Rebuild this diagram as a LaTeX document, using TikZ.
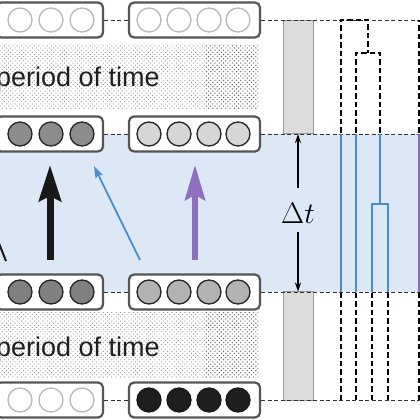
\documentclass[tikz,border=0pt]{standalone}
\usepackage[no-math]{fontspec}
\setmainfont{Liberation Sans}
\usetikzlibrary{arrows.meta,patterns}
\definecolor{bgblue}{HTML}{DDE8F6}
\definecolor{lineblue}{HTML}{4A8FC9}
\definecolor{purp}{HTML}{8C70BE}
\definecolor{boxedge}{HTML}{555555}
\definecolor{greyfill}{HTML}{DCDCDC}
\pgfdeclarepatternformonly{stipple}{\pgfqpoint{-1pt}{-1pt}}{\pgfqpoint{5.3pt}{5.3pt}}{\pgfqpoint{4.3pt}{4.3pt}}{%
  \pgfpathcircle{\pgfqpoint{0pt}{0pt}}{0.6pt}%
  \pgfpathcircle{\pgfqpoint{2.15pt}{2.15pt}}{0.6pt}%
  \pgfusepath{fill}}
\pgfdeclarepatternformonly{stippledense}{\pgfqpoint{-1pt}{-1pt}}{\pgfqpoint{5.3pt}{5.3pt}}{\pgfqpoint{4.3pt}{4.3pt}}{%
  \pgfpathcircle{\pgfqpoint{0pt}{0pt}}{0.7pt}%
  \pgfpathcircle{\pgfqpoint{2.15pt}{2.15pt}}{0.7pt}%
  \pgfusepath{fill}}
\tikzset{
  unitbox/.style={draw=boxedge, line width=2.2pt, rounded corners=5pt, fill=white, minimum height=35pt, inner sep=0pt},
  boxA/.style={unitbox, minimum width=107pt},
  boxB/.style={unitbox, minimum width=131pt},
  neuron/.style={circle, minimum size=24pt, inner sep=0pt, line width=1.3pt},
  emptyn/.style={neuron, draw=black!28, fill=white},
  rowlink/.style={dashed, dash pattern=on 4pt off 2.5pt, line width=0.9pt, draw=black!80},
  treedash/.style={line width=2pt, dash pattern=on 5.5pt off 3pt, draw=black},
  treeblue/.style={line width=2pt, draw=lineblue},
  band/.style={pattern=stipple, pattern color=black!45, draw=none},
  banddense/.style={pattern=stippledense, pattern color=black!62, draw=none},
  greybar/.style={draw=black!40, line width=1pt, fill=greyfill, minimum width=30pt, inner sep=0pt},
  bigtext/.style={font=\fontsize{27}{32}\selectfont, text=black!88, anchor=base west, inner sep=0pt},
  thinarrow/.style={line width=1.2pt, -{Stealth[length=9pt,width=6pt]}}
}
\begin{document}
\begin{tikzpicture}[x=1pt,y=1pt]
\useasboundingbox (0,0) rectangle (420,420);
\fill[white] (0,0) rectangle (420,420);
% blue interval
\fill[bgblue] (0,128) rectangle (420,286);
% stippled bands
\fill[band] (0,310) rectangle (205,375);
\fill[banddense] (205,310) rectangle (258,375);
\fill[band] (0,42) rectangle (205,107);
\fill[banddense] (205,42) rectangle (258,107);
\node[bigtext] (p1) at (-4,333) {period of time};
\node[bigtext] (p2) at (-4,63) {period of time};
% grey bars
\node[greybar, minimum height=113pt] (gt) at (298,343) {};
\node[greybar, minimum height=109pt] (gb) at (298,73.5) {};
% boxes
\node[boxA] (r1a) at (49.5,400) {};
\node[boxB] (r1b) at (194.5,400) {};
\node[boxA] (r2a) at (49.5,286) {};
\node[boxB] (r2b) at (194.5,286) {};
\node[boxA] (r3a) at (49.5,128) {};
\node[boxB] (r3b) at (194.5,128) {};
\node[boxA] (r4a) at (49.5,20) {};
\node[boxB] (r4b) at (194.5,20) {};
\coordinate (r1e) at (420,400);
\coordinate (r2e) at (420,286);
\coordinate (r3e) at (420,128);
\coordinate (r4e) at (420,20);
% row links
\foreach \r in {1,2,3,4}{
  \draw[rowlink] (r\r a.east) -- (r\r b.west);
  \draw[rowlink] (r\r b.east) -- (r\r e);
}
% neurons
\foreach \x [count=\i] in {20,51,82}{
  \node[emptyn] (n1a\i) at (\x,400) {};
  \node[neuron, draw=black!85, fill=black!45] (n2a\i) at (\x,286) {};
  \node[neuron, draw=black!85, fill=black!50] (n3a\i) at (\x,128) {};
  \node[emptyn] (n4a\i) at (\x,20) {};
}
\foreach \x [count=\i] in {149,179,209,238}{
  \node[emptyn] (n1b\i) at (\x,400) {};
  \node[neuron, draw=black!85, fill=black!16] (n2b\i) at (\x,286) {};
  \node[neuron, draw=black!85, fill=black!30] (n3b\i) at (\x,128) {};
  \node[neuron, draw=black!90, fill=black!88] (n4b\i) at (\x,20) {};
}
% arrows between rows
\coordinate (ka) at (50,160); \coordinate (kb) at (50,255);
\coordinate (ba) at (140,160); \coordinate (bb) at (94,254);
\coordinate (pa) at (195,160); \coordinate (pb) at (195,255);
\coordinate (la) at (6,159); \coordinate (lb) at (-4,184);
\draw[line width=7pt, black!90, -{Stealth[length=36pt,width=22pt,inset=5pt]}] (ka) -- (kb);
\draw[line width=1.8pt, lineblue, -{Stealth[length=12pt,width=8pt,inset=2pt]}] (ba) -- (bb);
\draw[line width=6pt, purp, -{Stealth[length=35pt,width=20pt,inset=5pt]}] (pa) -- (pb);
\draw[line width=2pt, black!90] (la) -- (lb);
% delta t
\node[font=\fontsize{24}{28}\selectfont, inner sep=0pt, scale=1.2] (dt) at (298,207) {$\Delta t$};
\coordinate (dtu) at (298,232);
\coordinate (dtd) at (298,188);
\draw[thinarrow] (dtu) -- (gt.south);
\draw[thinarrow] (dtd) -- (gb.north);
% dendrogram above (dashed)
\draw[treedash] (341,287) -- (341,400) -- (368,400) -- (368,367);
\draw[treedash] (356,287) -- (356,367) -- (380,367) -- (380,287);
\draw[treedash] (419,287) -- (419,400);
% blue tree in interval
\draw[treeblue] (341,286) -- (341,128);
\draw[treeblue] (356,286) -- (356,128);
\draw[treeblue] (380,286) -- (380,216);
\draw[treeblue] (372,128) -- (372,216) -- (388,216) -- (388,128);
\draw[line width=2pt, purp] (419,286) -- (419,128);
% dashed below
\foreach \x in {341,356,372,388,419}{
  \draw[treedash] (\x,127) -- (\x,20);
}
\end{tikzpicture}
\end{document}
